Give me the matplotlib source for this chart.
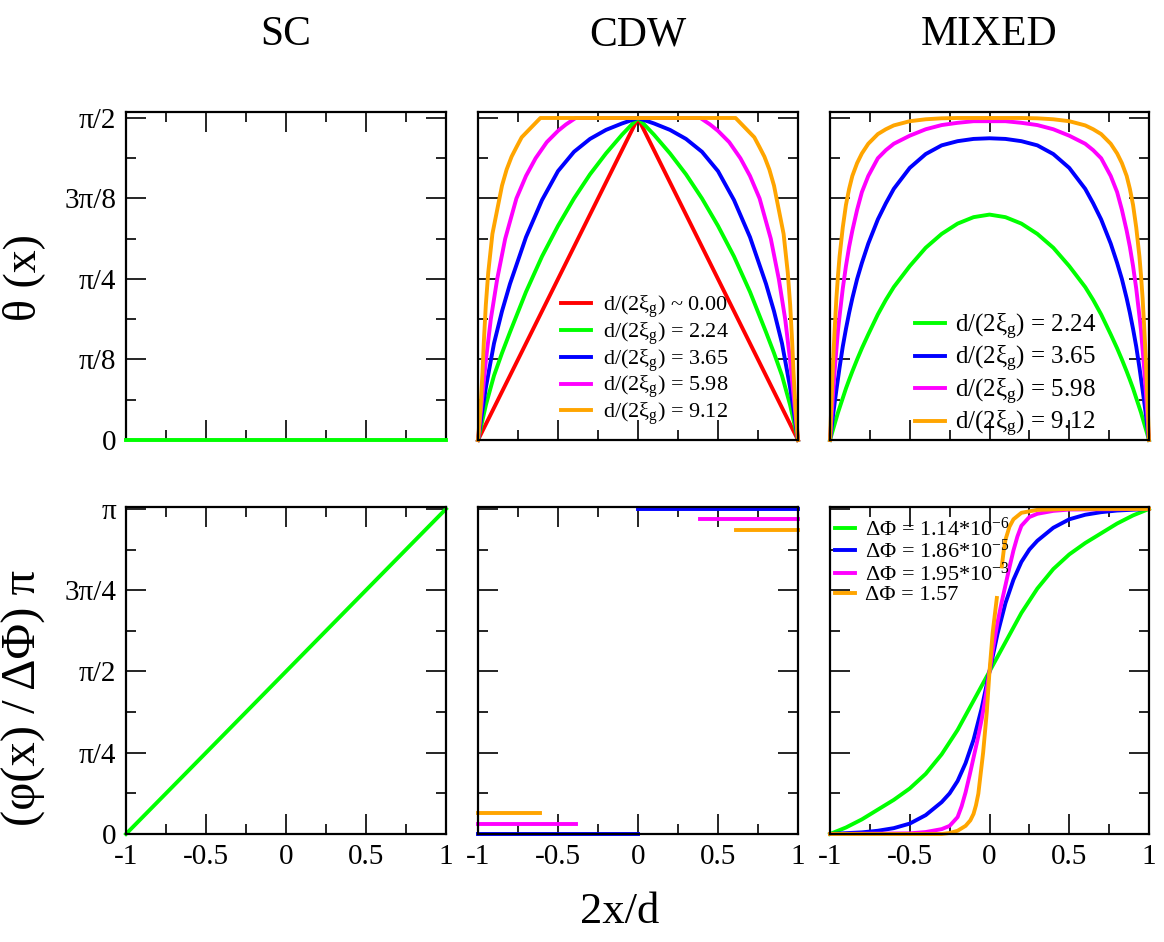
import numpy as np
import matplotlib
matplotlib.use('Agg')
import matplotlib.pyplot as plt
from matplotlib.ticker import MultipleLocator, FixedLocator

plt.rcParams['font.family'] = 'Liberation Serif'
plt.rcParams['mathtext.fontset'] = 'custom'
plt.rcParams['mathtext.rm'] = 'Liberation Serif'
plt.rcParams['mathtext.it'] = 'Liberation Serif:italic'
plt.rcParams['axes.unicode_minus'] = False

# --- data (top row in units of pi/2, bottom row in units of pi) ---
# SC
sc_theta_x = [-1, 1]
sc_theta = [0, 0]
sc_phi_x = [-1, 1]
sc_phi = [0, 1]

# CDW theta(x)
cdw_red_x = [-1, 0, 1]
cdw_red = [0, 1, 0]
cdw_x = [-1, -0.975, -0.95, -0.9, -0.85, -0.8, -0.7, -0.6, -0.5, -0.4, -0.3, -0.2, -0.1, 0,
         0.1, 0.2, 0.3, 0.4, 0.5, 0.6, 0.7, 0.8, 0.85, 0.9, 0.95, 0.975, 1]
cdw_green = [0, .055, .11, .2, .27, .335, .46, .57, .665, .75, .825, .89, .948, 1,
             .948, .89, .825, .75, .665, .57, .46, .335, .27, .2, .11, .055, 0]
cdw_blue = [0, .085, .165, .3, .4, .485, .63, .745, .835, .895, .935, .963, .983, 1,
            .983, .963, .935, .895, .835, .745, .63, .485, .4, .3, .165, .085, 0]
cdw_pink_x = [-1, -0.985, -0.97, -0.95, -0.92, -0.88, -0.83, -0.76, -0.7, -0.64, -0.57, -0.5, -0.45, -0.39,
              0.39, 0.45, 0.5, 0.57, 0.64, 0.7, 0.76, 0.83, 0.88, 0.92, 0.95, 0.97, 0.985, 1]
cdw_pink = [0, .075, .15, .25, .375, .5, .625, .75, .82, .875, .925, .96, .98, 1,
            1, .98, .96, .925, .875, .82, .75, .625, .5, .375, .25, .15, .075, 0]
cdw_orange_x = [-1, -0.984, -0.972, -0.963, -0.951, -0.936, -0.91, -0.874, -0.85, -0.821, -0.79, -0.759, -0.727, -0.61,
                0.61, 0.727, 0.759, 0.79, 0.821, 0.85, 0.874, 0.91, 0.936, 0.951, 0.963, 0.972, 0.984, 1]
cdw_orange = [0, .1, .21, .31, .42, .52, .64, .73, .79, .84, .88, .91, .94, 1,
              1, .94, .91, .88, .84, .79, .73, .64, .52, .42, .31, .21, .1, 0]

# MIXED theta(x)
mix_x = [-1, -.99, -.98, -.97, -.96, -.95, -.94, -.92, -.9, -.88, -.86, -.83, -.8, -.76, -.7, -.65, -.6,
         -.5, -.4, -.3, -.2, -.1, 0, .1, .2, .3, .4, .5,
         .6, .65, .7, .76, .8, .83, .86, .88, .9, .92, .94, .95, .96, .97, .98, .99, 1]
mix_green = [0, .017, .034, .051, .068, .085, .1, .13, .16, .187, .213, .25, .285, .328, .39, .435, .475,
             .54, .597, .64, .672, .692, .70, .692, .672, .64, .597, .54,
             .475, .435, .39, .328, .285, .25, .213, .187, .16, .13, .1, .085, .068, .051, .034, .017, 0]
mix_blue = [0, .04, .08, .118, .155, .19, .225, .29, .345, .395, .44, .5, .55, .61, .685, .735, .78,
            .845, .888, .915, .928, .935, .937, .935, .928, .915, .888, .845,
            .78, .735, .685, .61, .55, .5, .44, .395, .345, .29, .225, .19, .155, .118, .08, .04, 0]
mix_pink = [0, .075, .15, .22, .28, .34, .385, .47, .54, .6, .65, .715, .77, .82, .875, .9, .92,
            .945, .965, .978, .985, .99, .99, .99, .985, .978, .965, .945,
            .92, .9, .875, .82, .77, .715, .65, .6, .54, .47, .385, .34, .28, .22, .15, .075, 0]
mix_orange = [0, .13, .25, .35, .44, .51, .57, .66, .73, .78, .82, .86, .89, .92, .95, .965, .977,
              .99, .996, .999, 1, 1, 1, 1, 1, .999, .996, .99,
              .977, .965, .95, .92, .89, .86, .82, .78, .73, .66, .57, .51, .44, .35, .25, .13, 0]

# CDW phase (steps, gaps where undefined)
cdw_phi_blue_x = [-1, 0, np.nan, 0, 1]
cdw_phi_blue = [0, 0, np.nan, 1, 1]
cdw_phi_pink_x = [-1, -0.39, np.nan, 0.39, 1]
cdw_phi_pink = [0.032, 0.032, np.nan, 0.968, 0.968]
cdw_phi_orange_x = [-1, -0.61, np.nan, 0.61, 1]
cdw_phi_orange = [0.064, 0.064, np.nan, 0.936, 0.936]

# MIXED phase
mphi_green_x = [-1, -0.9, -0.8, -0.7, -0.6, -0.5, -0.4, -0.3, -0.2, -0.1, 0,
                0.1, 0.2, 0.3, 0.4, 0.5, 0.6, 0.7, 0.8, 0.9, 1]
mphi_green = [0, .02, .045, .075, .105, .14, .185, .245, .32, .41, .5,
              .59, .68, .755, .815, .86, .895, .925, .955, .98, 1]
mphi_blue_x = [-1, -0.8, -0.7, -0.6, -0.5, -0.4, -0.3, -0.25, -0.2, -0.15, -0.1, -0.05, 0,
               0.05, 0.1, 0.15, 0.2, 0.25, 0.3, 0.4, 0.5, 0.6, 0.7, 0.8, 1]
mphi_blue = [0, .005, .01, .018, .032, .058, .098, .125, .163, .218, .29, .385, .5,
             .615, .71, .782, .837, .875, .902, .942, .968, .982, .99, .995, 1]
mphi_pink_x = [-1, -0.5, -0.4, -0.3, -0.25, -0.2, -0.175, -0.15, -0.125, -0.1, -0.075, -0.05, -0.025, 0,
               0.025, 0.05, 0.075, 0.1, 0.125, 0.15, 0.175, 0.2, 0.25, 0.3, 0.4, 0.5, 1]
mphi_pink = [0, .002, .006, .015, .025, .052, .085, .128, .18, .235, .29, .35, .42, .5,
             .58, .65, .71, .765, .82, .872, .915, .948, .975, .985, .994, .998, 1]
mphi_orange_x = [-1, -0.3, -0.25, -0.2, -0.15, -0.12, -0.1, -0.085, -0.07, -0.04, -0.017, 0, 0.02, 0.046, np.nan,
                 0.077, 0.09, 0.1, 0.125, 0.15, 0.2, 0.3, 0.5, 1]
mphi_orange = [0, 0, .003, .01, .025, .042, .062, .088, .124, .25, .375, .5, .62, .726, np.nan,
               .823, .875, .905, .945, .968, .988, .997, 1, 1]

cdw_labels = ['d/(2ξ$_{\\rm g}$) ~ 0.00', 'd/(2ξ$_{\\rm g}$) = 2.24', 'd/(2ξ$_{\\rm g}$) = 3.65',
              'd/(2ξ$_{\\rm g}$) = 5.98', 'd/(2ξ$_{\\rm g}$) = 9.12']
phi_labels = ['ΔΦ = 1.14*10$^{-6}$', 'ΔΦ = 1.86*10$^{-5}$', 'ΔΦ = 1.95*10$^{-3}$', 'ΔΦ = 1.57']
col_titles = ['SC', 'CDW', 'MIXED']

RED, GREEN, BLUE, PINK, ORANGE = '#ff0000', '#00ff00', '#0000ff', '#ff00ff', '#ffa500'
LW = 2.8

W, H = 1164, 942
fig = plt.figure(figsize=(W / 100, H / 100), dpi=100)

cols = [(126, 446), (478, 798), (830, 1149)]
rows = [(112, 440), (507, 834)]


def style(ax, row, col):
    ax.set_xlim(-1, 1)
    ax.xaxis.set_major_locator(MultipleLocator(0.5))
    ax.xaxis.set_minor_locator(MultipleLocator(0.25))
    if row == 0:
        ax.set_ylim(0, 1.6)
        ax.set_yticks(np.arange(5) * np.pi / 8)
        ax.yaxis.set_minor_locator(FixedLocator(np.arange(1, 8, 2) * np.pi / 16))
        ylabs = ['0', 'π/8', 'π/4', '3π/8', 'π/2']
    else:
        ax.set_ylim(0, 3.16)
        ax.set_yticks(np.arange(5) * np.pi / 4)
        ax.yaxis.set_minor_locator(FixedLocator(np.arange(1, 8, 2) * np.pi / 8))
        ylabs = ['0', 'π/4', 'π/2', '3π/4', 'π']
    ax.tick_params(which='both', direction='in', top=True, right=True, width=1.2,
                   labelsize=21, pad=7)
    ax.tick_params(which='major', length=14.5)
    ax.tick_params(which='minor', length=7)
    if col == 0:
        ax.set_yticklabels(ylabs)
    else:
        ax.tick_params(labelleft=False)
    if row == 0:
        ax.tick_params(labelbottom=False)
    else:
        ax.set_xticks([-1, -0.5, 0, 0.5, 1])
        ax.set_xticklabels(['-1', '-0.5', '0', '0.5', '1'])
    for s in ax.spines.values():
        s.set_linewidth(1.6)


axs = [[None] * 3 for _ in range(2)]
for r, (y0, y1) in enumerate(rows):
    for c, (x0, x1) in enumerate(cols):
        ax = fig.add_axes([x0 / W, 1 - y1 / H, (x1 - x0) / W, (y1 - y0) / H])
        style(ax, r, c)
        axs[r][c] = ax

hp = np.pi / 2


def line(ax, x, y, color, scale, **kw):
    return ax.plot(x, np.array(y, dtype=float) * scale, color=color, lw=LW,
                   clip_on=False, **kw)[0]


# SC
line(axs[0][0], sc_theta_x, sc_theta, GREEN, hp, zorder=3)
line(axs[1][0], sc_phi_x, sc_phi, GREEN, np.pi)

# CDW theta
ax = axs[0][1]
h = [line(ax, cdw_red_x, cdw_red, RED, hp),
     line(ax, cdw_x, cdw_green, GREEN, hp),
     line(ax, cdw_x, cdw_blue, BLUE, hp),
     line(ax, cdw_pink_x, cdw_pink, PINK, hp),
     line(ax, cdw_orange_x, cdw_orange, ORANGE, hp)]
ax.legend(h, cdw_labels, loc='upper left', bbox_to_anchor=(0.258, 0.446), frameon=False,
          borderpad=0, borderaxespad=0, fontsize=16, handlelength=1.35,
          handletextpad=0.55, labelspacing=0.01)

# MIXED theta
ax = axs[0][2]
h = [line(ax, mix_x, mix_green, GREEN, hp),
     line(ax, mix_x, mix_blue, BLUE, hp),
     line(ax, mix_x, mix_pink, PINK, hp),
     line(ax, mix_x, mix_orange, ORANGE, hp)]
ax.legend(h, cdw_labels[1:], loc='upper left', bbox_to_anchor=(0.266, 0.392), frameon=False,
          borderpad=0, borderaxespad=0, fontsize=18, handlelength=1.2,
          handletextpad=0.4, labelspacing=0.1)

# CDW phase
ax = axs[1][1]
line(ax, cdw_phi_blue_x, cdw_phi_blue, BLUE, np.pi)
line(ax, cdw_phi_pink_x, cdw_phi_pink, PINK, np.pi)
line(ax, cdw_phi_orange_x, cdw_phi_orange, ORANGE, np.pi)

# MIXED phase
ax = axs[1][2]
h = [line(ax, mphi_green_x, mphi_green, GREEN, np.pi),
     line(ax, mphi_blue_x, mphi_blue, BLUE, np.pi),
     line(ax, mphi_pink_x, mphi_pink, PINK, np.pi),
     line(ax, mphi_orange_x, mphi_orange, ORANGE, np.pi)]
ax.legend(h, phi_labels, loc='upper left', bbox_to_anchor=(0.016, 0.969), frameon=False,
          borderpad=0, borderaxespad=0, fontsize=16, handlelength=0.9,
          handletextpad=0.45, labelspacing=-0.03)

# titles and axis labels
for (x0, x1), t in zip(cols, col_titles):
    fig.text((x0 + x1) / 2 / W, 1 - 35 / H, t, fontsize=30, ha='center', va='center')
fig.text(24 / W, 1 - 278 / H, 'θ (x)', fontsize=33, rotation=90, ha='center', va='center')
fig.text(24 / W, 1 - 698 / H, '(φ(x) / ΔΦ) π', fontsize=35, rotation=90, ha='center', va='center')
fig.text(620 / W, 1 - 912 / H, '2x/d', fontsize=32, ha='center', va='center')

fig.savefig('out.png', dpi=100)
